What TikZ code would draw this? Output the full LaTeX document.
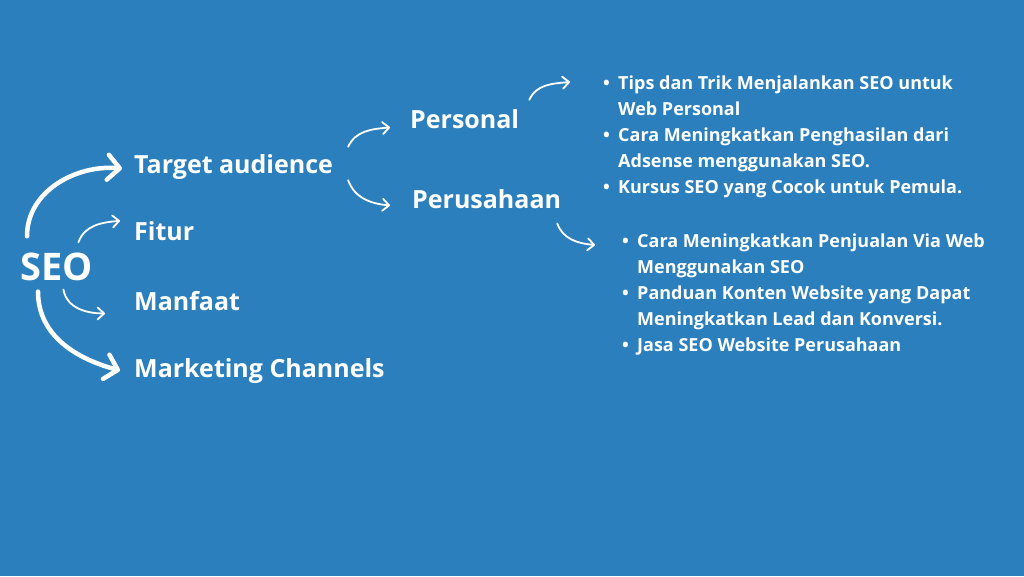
\documentclass[tikz,border=0pt]{standalone}
\usepackage{fontspec}
\setmainfont{Open Sans}
\usetikzlibrary{arrows.meta, positioning, calc}
\definecolor{seoblue}{RGB}{43,127,189}
\newcommand{\itm}{\makebox[15pt][l]{\textbullet}}
\newcommand{\nxt}{\hspace*{15pt}}

\begin{document}
\begin{tikzpicture}[x=1pt, y=-1pt,
    lbl/.style={text=white, font=\fontsize{25}{30}\selectfont\bfseries, anchor=base west, inner sep=0pt},
    seolbl/.style={lbl, font=\fontsize{38}{44}\selectfont\bfseries},
    list/.style={text=white, font=\fontsize{18}{26}\selectfont\bfseries, anchor=base west, inner sep=0pt, align=left},
    bigarrow/.style={draw=white, line width=4.5pt, line cap=round, -{Straight Barb[length=12pt, width=25pt, line cap=round, line join=round]}},
    smallarrow/.style={draw=white, line width=1.8pt, line cap=round, -{Straight Barb[length=6.5pt, width=12pt, line cap=round, line join=round]}}]
    \useasboundingbox (0,0) rectangle (1024,576);
    \fill[seoblue] (0,0) rectangle (1024,576);

    \node[seolbl] (seo) at (20,280) {SEO};
    \node[lbl] (target) at (134,173) {Target audience};
    \node[lbl] (fitur) at (134,240) {Fitur};
    \node[lbl] (manfaat) at (134,310) {Manfaat};
    \node[lbl] (channels) at (134,377) {Marketing Channels};
    \node[lbl] (personal) at (410,128) {Personal};
    \node[lbl] (perusahaan) at (412,208) {Perusahaan};
    % lists sit on the baseline of their last line
    \node[list] (tips) at (603,193) {\itm Tips dan Trik Menjalankan SEO untuk\\ \nxt Web Personal\\ \itm Cara Meningkatkan Penghasilan dari\\ \nxt Adsense menggunakan SEO.\\ \itm Kursus SEO yang Cocok untuk Pemula.};
    \node[list] (jualan) at (622,351) {\itm Cara Meningkatkan Penjualan Via Web\\ \nxt Menggunakan SEO\\ \itm Panduan Konten Website yang Dapat\\ \nxt Meningkatkan Lead dan Konversi.\\ \itm Jasa SEO Website Perusahaan};

    \draw[bigarrow] ([shift={(7,-16)}]seo.north west) to[out=90, in=175] ([shift={(-12,2)}]target.west);
    \draw[smallarrow] ([shift={(22,-10)}]seo.north) to[out=70, in=185] ([xshift=-14]fitur.north west);
    \draw[smallarrow] ([shift={(7,9)}]seo.south) to[out=-80, in=180] ([shift={(-29,3)}]manfaat.south west);
    \draw[bigarrow] ([shift={(18,11)}]seo.south west) to[out=-90, in=165] ([shift={(-14,0)}]channels.west);
    \draw[smallarrow] ([shift={(15,-7)}]target.north east) to[out=65, in=185] ([shift={(-20,-1)}]personal.south west);
    \draw[smallarrow] ([shift={(15,1)}]target.south east) to[out=-70, in=175] ([shift={(-22,-3)}]perusahaan.south west);
    \draw[smallarrow] ([shift={(10,-9)}]personal.north east) to[out=65, in=185] ([shift={(-33,-111)}]tips.base west);
    \draw[smallarrow] ([shift={(-4,15)}]perusahaan.south east) to[out=-70, in=175] ([shift={(-27,-106)}]jualan.base west);
\end{tikzpicture}
\end{document}
